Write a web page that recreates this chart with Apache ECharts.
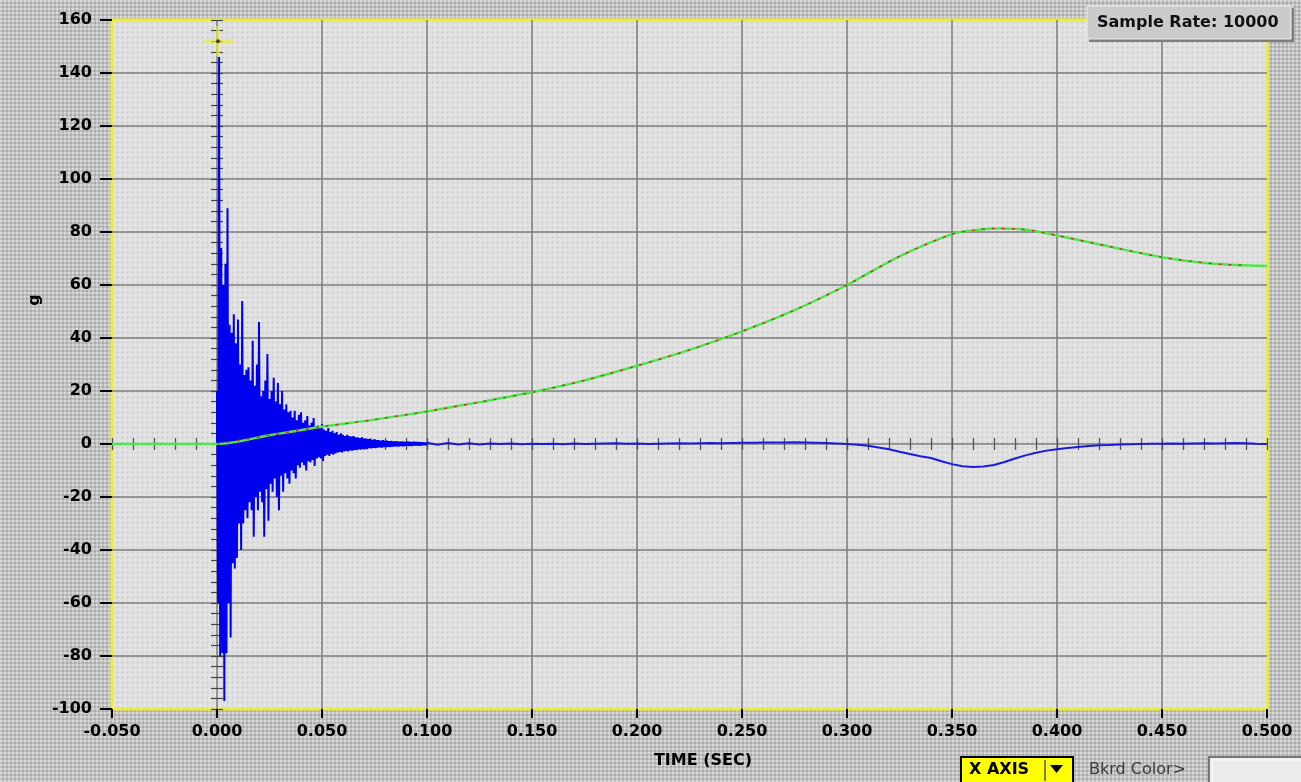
<!DOCTYPE html>
<html><head><meta charset="utf-8">
<script src="https://cdn.jsdelivr.net/npm/echarts@6/dist/echarts.min.js"></script>
<style>
html,body{margin:0;padding:0;}
body{background-color:#c1c1c1;background-image:radial-gradient(circle at 1px 1px,#d9d9d9 0.8px,transparent 1px),radial-gradient(circle at 3px 3px,#a9a9a9 0.7px,transparent 1px);background-size:4px 4px;}
#c{width:1301px;height:782px;}
</style>
</head><body><div id="c"></div>
<script>
// ---------- data ----------
const xMin = -0.05, xMax = 0.5, xStep = 0.05;
const yMin = -100, yMax = 160, yStep = 20;

// blue channel before impact (time s, g)
const bluePre = [[-0.05, 0], [0, 0]];
// blue burst: upper peaks at t = i*burstStep, lower peaks at t = (i+0.5)*burstStep
const burstStep = 0.001;
const burstHi = [20,146,74,60,68,89,45,42,49,38, 47,30,54,26,28,29,24,39,22,30,
  46,18,20,24,34,17,20,25,16,23, 15,20,13,15,12,12.5,10,12.5,9,11,
  12,8,9,10.6,7,8,9.8,6.5,7,6, 7.5,5.5,5,6,4.5,5,4,4.5,3.5,4,
  3.5,3,3.5,3,2.8,3,2.5,2.5,2.2,2.5, 2,2,1.8,2,1.6,1.8,1.5,1.5,1.3,1.5,
  1.2,1.3,1.1,1.2,1.0,1.1,1.0,0.9,1.0,0.9, 0.8,0.9,0.8,0.7,0.8,0.7,0.7,0.6,0.6,0.5];
const burstLo = [-60,-80,-79,-97,-79,-60,-73,-45,-47,-43, -30,-40,-30,-25,-28,-22,-25,-35,-20,-25,
  -18,-22,-35,-17,-29,-15,-18,-13,-20,-25, -12,-18,-11,-13,-15,-10,-11,-13,-8,-9,
  -7,-8,-10,-6.5,-7,-6,-8.3,-5.5,-5,-5.5, -6.4,-4.5,-4,-4.5,-3.8,-4,-3.5,-3.2,-3,-3.2,
  -2.8,-2.6,-2.8,-2.4,-2.5,-2.2,-2.3,-2,-2.1,-1.9, -1.8,-1.9,-1.6,-1.7,-1.5,-1.6,-1.4,-1.3,-1.4,-1.2,
  -1.2,-1.1,-1.2,-1.0,-1.0,-0.9,-1.0,-0.8,-0.9,-0.8, -0.7,-0.8,-0.7,-0.6,-0.6,-0.5,-0.6,-0.5,-0.4,-0.4];
// blue tail: t = tailStart + j*tailStep
const tailStart = 0.1, tailStep = 0.005;
const blueTail = [0.5,-0.3,0.4,-0.2,0.3,-0.2,0.2,0,0.2,-0.1,
  0.1,0,0.1,-0.1,0.2,0,0.1,0.2,0.3,0.1,
  0.2,0,0.1,0.2,0.3,0.2,0.3,0.4,0.3,0.4,
  0.5,0.5,0.6,0.6,0.6,0.7,0.6,0.5,0.4,0.2,
  0,-0.3,-0.7,-1.3,-2,-2.9,-3.8,-4.6,-5.3,-6.5,
  -7.6,-8.4,-8.7,-8.5,-7.9,-6.8,-5.5,-4.3,-3.3,-2.5,
  -2,-1.5,-1.1,-0.8,-0.5,-0.4,-0.2,-0.1,0,0.1,
  0.1,0.2,0.1,0.2,0.3,0.2,0.3,0.4,0.3,0.1,0];

// green channel
const greenT = [-0.05,0,0.025,0.05,0.075,0.1,0.125,0.15,0.175,0.2,0.225,0.25,0.275,0.3,0.325,0.35,0.36,0.37,0.38,0.39,0.4,0.425,0.45,0.475,0.5];
const greenG = [0,0,3.3,6.5,9.2,12.3,15.8,19.5,24,29.5,35.5,42.5,50.5,60,70.8,79.2,80.6,81.3,81.2,80.3,78.7,74.5,70.5,68,67.2];
// red channel (overlays green)
const redT = [0,0.025,0.05,0.075,0.1,0.125,0.15,0.175,0.2,0.225,0.25,0.275,0.3,0.325,0.35,0.36,0.37,0.38,0.39,0.4,0.425,0.45,0.475,0.49];
const redG = [0,3.3,6.5,9.2,12.3,15.8,19.5,24,29.5,35.5,42.5,50.5,60,70.8,79.2,80.6,81.3,81.2,80.3,78.7,74.5,70.5,68,67.4];
// cursor
const cursorPt = [0.0005, 152];

// ---------- build ----------
const blueBurst = bluePre.slice();
for (let i = 0; i < burstHi.length; i++) {
  blueBurst.push([i * burstStep, burstHi[i]]);
  blueBurst.push([(i + 0.5) * burstStep, burstLo[i]]);
}
blueBurst.push([tailStart, blueTail[0]]);
const blueTailData = blueTail.map((v, j) => [tailStart + j * tailStep, v]);
const greenData = greenT.map((t, i) => [t, greenG[i]]);
const redData = redT.map((t, i) => [t, redG[i]]);

function pattern(size, base, dots) {
  const c = document.createElement('canvas');
  c.width = size; c.height = size;
  const g = c.getContext('2d');
  g.fillStyle = base; g.fillRect(0, 0, size, size);
  dots.forEach(d => { g.fillStyle = d[2]; g.fillRect(d[0], d[1], 1, 1); });
  return { image: c, repeat: 'repeat' };
}
const plotBg = pattern(5, '#dfdfdf', [[0,0,'#f3f3f3'],[2,2,'#bcbcbc'],[4,4,'#eeeeee']]);

const FONT = 'DejaVu Sans';
const chart = echarts.init(document.getElementById('c'), null, { renderer: 'canvas' });

const option = {
  animation: false,
  backgroundColor: 'transparent',
  grid: { left: 112, right: 34, top: 20, bottom: 73, show: true, backgroundColor: plotBg, borderColor: '#eeee3a', borderWidth: 3 },
  xAxis: [
    { type: 'value', min: xMin, max: xMax, interval: xStep, position: 'bottom',
      axisLine: { show: false, onZero: false },
      axisTick: { show: true, length: 9, lineStyle: { color: '#000', width: 2 } },
      axisLabel: { margin: 15, color: '#000', fontFamily: FONT, fontWeight: 'bold', fontSize: 16,
        formatter: v => v.toFixed(3) },
      splitLine: { show: true, showMinLine: false, showMaxLine: false, lineStyle: { color: '#7c7c7c', width: 1.5 } } },
    { type: 'value', min: xMin, max: xMax, interval: xStep, position: 'bottom',
      axisLine: { show: false, onZero: true, onZeroAxisIndex: 0 },
      axisTick: { show: true, inside: true, length: 6, lineStyle: { color: '#555', width: 1.3 } },
      minorTick: { show: true, splitNumber: 5, length: 6, lineStyle: { color: '#555', width: 1.3 } },
      axisLabel: { show: false }, splitLine: { show: false } },
    { type: 'value', min: xMin, max: xMax, interval: xStep, position: 'bottom',
      axisLine: { show: false, onZero: true, onZeroAxisIndex: 1 },
      axisTick: { show: true, inside: false, length: 6, lineStyle: { color: '#555', width: 1.3 } },
      minorTick: { show: true, splitNumber: 5, length: 6, lineStyle: { color: '#555', width: 1.3 } },
      axisLabel: { show: false }, splitLine: { show: false } }
  ],
  yAxis: [
    { type: 'value', min: yMin, max: yMax, interval: yStep, position: 'left',
      axisLine: { show: false, onZero: false },
      axisTick: { show: true, length: 12, lineStyle: { color: '#000', width: 2 } },
      axisLabel: { margin: 20, color: '#000', fontFamily: FONT, fontWeight: 'bold', fontSize: 16 },
      splitLine: { show: true, showMinLine: false, showMaxLine: false, lineStyle: { color: '#7c7c7c', width: 1.5 } } },
    { type: 'value', min: yMin, max: yMax, interval: yStep, position: 'left',
      axisLine: { show: false, onZero: false }, axisTick: { show: false },
      axisLabel: { show: false }, splitLine: { show: false } },
    { type: 'value', min: yMin, max: yMax, interval: yStep, position: 'left',
      axisLine: { show: false, onZero: true, onZeroAxisIndex: 0 },
      axisTick: { show: true, inside: true, length: 6, lineStyle: { color: '#444', width: 1.2 } },
      minorTick: { show: true, splitNumber: 5, length: 6, lineStyle: { color: '#444', width: 1.2 } },
      axisLabel: { show: false }, splitLine: { show: false } },
    { type: 'value', min: yMin, max: yMax, interval: yStep, position: 'left',
      axisLine: { show: false, onZero: true, onZeroAxisIndex: 1 },
      axisTick: { show: true, inside: false, length: 6, lineStyle: { color: '#444', width: 1.2 } },
      minorTick: { show: true, splitNumber: 5, length: 6, lineStyle: { color: '#444', width: 1.2 } },
      axisLabel: { show: false }, splitLine: { show: false } }
  ],
  series: [
    { type: 'line', data: blueBurst, showSymbol: false, lineStyle: { color: '#0000f0', width: 2 }, z: 3 },
    { type: 'line', data: blueTailData, showSymbol: false, lineStyle: { color: '#1a1ae0', width: 2 }, z: 3 },
    { type: 'line', data: greenData, smooth: 0.3, showSymbol: false, lineStyle: { color: '#4ee84e', width: 2.5 }, z: 4 },
    { type: 'line', data: redData, smooth: 0.3, showSymbol: false, lineStyle: { color: '#b83a2a', width: 1.5, type: [3, 7] }, z: 5 },
    { type: 'scatter', data: [cursorPt], symbol: 'path://M0,13 L30,13 L30,17 L0,17 Z M13,0 L17,0 L17,30 L13,30 Z',
      symbolSize: [30, 30], itemStyle: { color: 'rgba(238,238,70,0.85)' }, z: 6 },
    { type: 'scatter', data: [cursorPt], symbol: 'circle', symbolSize: 4, itemStyle: { color: '#222' }, z: 7 }
  ],
  graphic: [
    { type: 'text', x: 35, y: 300, rotation: Math.PI / 2, style: { text: 'g', font: 'bold 16px "DejaVu Sans"', fill: '#000', align: 'center', verticalAlign: 'middle' } },
    { type: 'text', x: 703, y: 761, style: { text: 'TIME (SEC)', font: 'bold 16px "DejaVu Sans"', fill: '#000', align: 'center', verticalAlign: 'middle' } },
    // sample rate box
    { type: 'rect', shape: { x: 1089, y: 8, width: 205, height: 34 }, style: { fill: '#7e7e7e' }, z: 100 },
    { type: 'rect', shape: { x: 1087, y: 6, width: 204, height: 33 }, style: { fill: '#cbcbcb', stroke: '#eeeeee', lineWidth: 1 }, z: 101 },
    { type: 'text', x: 1097, y: 23, style: { text: 'Sample Rate: 10000', font: 'bold 16px "DejaVu Sans"', fill: '#111', verticalAlign: 'middle' }, z: 102 },
    // X AXIS dropdown
    { type: 'rect', shape: { x: 961, y: 757, width: 112, height: 26 }, style: { fill: '#ffff00', stroke: '#000', lineWidth: 2 }, z: 100 },
    { type: 'line', shape: { x1: 1045, y1: 760, x2: 1045, y2: 781 }, style: { stroke: '#555', lineWidth: 1.5 }, z: 101 },
    { type: 'polygon', shape: { points: [[1050, 765], [1063, 765], [1056.5, 773]] }, style: { fill: '#000' }, z: 101 },
    { type: 'text', x: 969, y: 770, style: { text: 'X AXIS', font: 'bold 16px "DejaVu Sans"', fill: '#000', verticalAlign: 'middle' }, z: 101 },
    { type: 'text', x: 1089, y: 770, style: { text: 'Bkrd Color>', font: '16px "DejaVu Sans"', fill: '#3a3a3a', verticalAlign: 'middle' }, z: 101 },
    { type: 'rect', shape: { x: 1209, y: 757, width: 95, height: 28 }, style: { fill: '#ececec', stroke: '#555', lineWidth: 1.5 }, z: 100 },
    { type: 'rect', shape: { x: 1212, y: 760, width: 95, height: 28 }, style: { fill: 'none', stroke: '#ffffff', lineWidth: 1 }, z: 101 }
  ]
};
chart.setOption(option);
</script>
</body></html>
